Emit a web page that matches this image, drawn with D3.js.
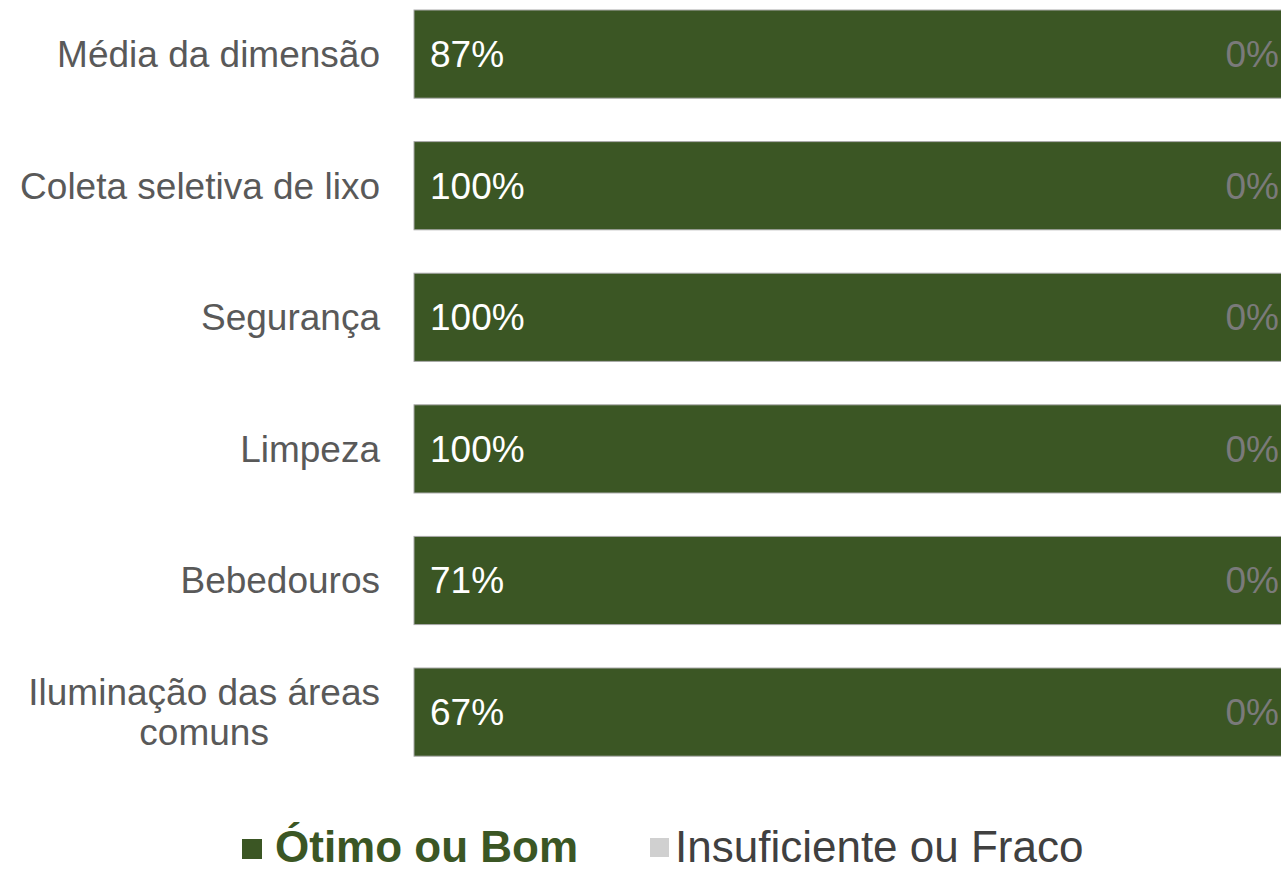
<!DOCTYPE html>
<html>
<head>
<meta charset="utf-8">
<script src="https://cdn.jsdelivr.net/npm/d3@7"></script>
<style>
  html, body { margin: 0; padding: 0; background: #fff; }
  svg { display: block; font-family: "Liberation Sans", Arial, sans-serif; }
</style>
</head>
<body>
<svg id="chart" width="1281" height="872"></svg>
<script>
// --- data ---
const categories = [
  "Média da dimensão",
  "Coleta seletiva de lixo",
  "Segurança",
  "Limpeza",
  "Bebedouros",
  "Iluminação das áreas\ncomuns"
];
const goodValues = [87, 100, 100, 100, 71, 67];   // Ótimo ou Bom (label)
const badValues  = [0, 0, 0, 0, 0, 0];            // Insuficiente ou Fraco
const seriesNames = ["Ótimo ou Bom", "Insuficiente ou Fraco"];
const seriesColors = ["#3b5624", "#d0d0d0"];

const W = 1281, H = 872;
const svg = d3.select("#chart");

// rows for the stack: green runs up to where the "bad" share starts
const rows = categories.map((c, i) => ({
  cat: c, good: goodValues[i], bad: badValues[i], rest: 100 - badValues[i]
}));
const stacked = d3.stack().keys(["rest", "bad"])(rows);

const x = d3.scaleLinear().domain([0, 100]).range([414, 1290]);
const y = d3.scaleBand().domain(categories).range([-11.7, 777.9])
  .paddingInner(0.33).paddingOuter(0.165);

// bars
const gBars = svg.append("g");
stacked.forEach((layer, k) => {
  gBars.append("g").selectAll("rect")
    .data(layer)
    .join("rect")
    .attr("x", d => x(d[0]))
    .attr("y", d => y(d.data.cat))
    .attr("width", d => Math.max(0, x(d[1]) - x(d[0])))
    .attr("height", y.bandwidth())
    .attr("fill", seriesColors[k])
    .attr("stroke", d => x(d[1]) - x(d[0]) > 0 ? "#a8a8a8" : "none")
    .attr("stroke-width", 1);
});

// value labels
svg.append("g").selectAll("text.good")
  .data(rows)
  .join("text")
  .attr("x", x(0) + 16)
  .attr("y", d => y(d.cat) + y.bandwidth() / 2)
  .attr("dy", "0.35em")
  .attr("fill", "#ffffff")
  .attr("font-size", 37)
  .text(d => d.good + "%");

svg.append("g").selectAll("text.bad")
  .data(rows)
  .join("text")
  .attr("x", x(100) - 11)
  .attr("y", d => y(d.cat) + y.bandwidth() / 2)
  .attr("dy", "0.35em")
  .attr("text-anchor", "end")
  .attr("fill", "#7a7a7a")
  .attr("font-size", 37)
  .text(d => d.bad + "%");

// category labels (multi-line ones are centred inside a right-aligned block)
const labelRight = 380, lineH = 40;
const gLab = svg.append("g");
rows.forEach(d => {
  const lines = d.cat.split("\n");
  const cy = y(d.cat) + y.bandwidth() / 2;
  const t = gLab.append("text")
    .attr("fill", "#595959")
    .attr("font-size", 37);
  lines.forEach((ln, j) => {
    t.append("tspan")
      .attr("y", cy + (j - (lines.length - 1) / 2) * lineH)
      .attr("dy", "0.35em")
      .text(ln);
  });
  if (lines.length === 1) {
    t.attr("text-anchor", "end").selectAll("tspan").attr("x", labelRight);
  } else {
    const spans = t.selectAll("tspan");
    const maxW = d3.max(spans.nodes(), n => n.getComputedTextLength());
    t.attr("text-anchor", "middle");
    spans.attr("x", labelRight - maxW / 2);
  }
});

// legend
const legendItems = [
  { name: seriesNames[0], color: seriesColors[0], sx: 242, sy: 839, s: 20, tx: 275,
    textColor: "#3b5624", weight: "bold" },
  { name: seriesNames[1], color: seriesColors[1], sx: 650, sy: 838, s: 19, tx: 675,
    textColor: "#404040", weight: "normal" }
];
const gLeg = svg.append("g");
legendItems.forEach(it => {
  gLeg.append("rect")
    .attr("x", it.sx).attr("y", it.sy)
    .attr("width", it.s).attr("height", it.s)
    .attr("fill", it.color);
  gLeg.append("text")
    .attr("x", it.tx).attr("y", 862)
    .attr("font-size", 44)
    .attr("font-weight", it.weight)
    .attr("fill", it.textColor)
    .text(it.name);
});
</script>
</body>
</html>
